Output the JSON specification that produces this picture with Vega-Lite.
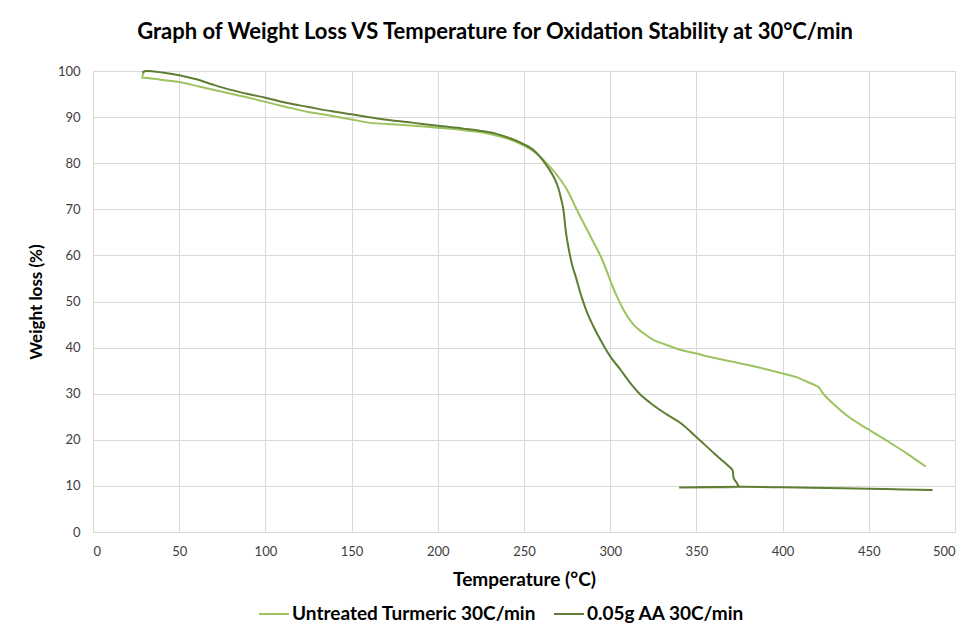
{
  "$schema": "https://vega.github.io/schema/vega-lite/v6.json",
  "autosize": {"type": "none"},
  "width": 862,
  "height": 461,
  "padding": {"left": 93, "top": 71, "right": 14, "bottom": 107},
  "background": "white",
  "title": {
    "text": "Graph of Weight Loss VS Temperature for Oxidation Stability at 30°C/min",
    "font": "Lato",
    "fontSize": 22,
    "fontWeight": "bold",
    "color": "#000000",
    "anchor": "middle",
    "offset": 21,
    "dx": -29
  },
  "config": {
    "view": {"stroke": null},
    "font": "Lato"
  },
  "data": {
    "values": [
      {"s": "Untreated Turmeric 30C/min", "i": 0, "t": 29.5, "w": 99.8},
      {"s": "Untreated Turmeric 30C/min", "i": 1, "t": 28, "w": 98.6},
      {"s": "Untreated Turmeric 30C/min", "i": 2, "t": 35, "w": 98.3},
      {"s": "Untreated Turmeric 30C/min", "i": 3, "t": 50, "w": 97.6},
      {"s": "Untreated Turmeric 30C/min", "i": 4, "t": 62, "w": 96.6},
      {"s": "Untreated Turmeric 30C/min", "i": 5, "t": 75, "w": 95.5},
      {"s": "Untreated Turmeric 30C/min", "i": 6, "t": 88, "w": 94.4},
      {"s": "Untreated Turmeric 30C/min", "i": 7, "t": 100, "w": 93.3},
      {"s": "Untreated Turmeric 30C/min", "i": 8, "t": 112, "w": 92.2},
      {"s": "Untreated Turmeric 30C/min", "i": 9, "t": 125, "w": 91.1},
      {"s": "Untreated Turmeric 30C/min", "i": 10, "t": 138, "w": 90.3},
      {"s": "Untreated Turmeric 30C/min", "i": 11, "t": 150, "w": 89.5},
      {"s": "Untreated Turmeric 30C/min", "i": 12, "t": 160, "w": 88.8},
      {"s": "Untreated Turmeric 30C/min", "i": 13, "t": 175, "w": 88.4},
      {"s": "Untreated Turmeric 30C/min", "i": 14, "t": 190, "w": 88.0},
      {"s": "Untreated Turmeric 30C/min", "i": 15, "t": 200, "w": 87.7},
      {"s": "Untreated Turmeric 30C/min", "i": 16, "t": 212, "w": 87.3},
      {"s": "Untreated Turmeric 30C/min", "i": 17, "t": 225, "w": 86.7},
      {"s": "Untreated Turmeric 30C/min", "i": 18, "t": 235, "w": 85.9},
      {"s": "Untreated Turmeric 30C/min", "i": 19, "t": 245, "w": 84.7},
      {"s": "Untreated Turmeric 30C/min", "i": 20, "t": 250, "w": 83.8},
      {"s": "Untreated Turmeric 30C/min", "i": 21, "t": 257, "w": 82.2},
      {"s": "Untreated Turmeric 30C/min", "i": 22, "t": 263.6, "w": 79.8},
      {"s": "Untreated Turmeric 30C/min", "i": 23, "t": 270, "w": 77.0},
      {"s": "Untreated Turmeric 30C/min", "i": 24, "t": 275.2, "w": 74.1},
      {"s": "Untreated Turmeric 30C/min", "i": 25, "t": 280, "w": 70.4},
      {"s": "Untreated Turmeric 30C/min", "i": 26, "t": 285, "w": 66.7},
      {"s": "Untreated Turmeric 30C/min", "i": 27, "t": 290.7, "w": 62.6},
      {"s": "Untreated Turmeric 30C/min", "i": 28, "t": 294.6, "w": 59.7},
      {"s": "Untreated Turmeric 30C/min", "i": 29, "t": 298, "w": 56.6},
      {"s": "Untreated Turmeric 30C/min", "i": 30, "t": 301, "w": 53.6},
      {"s": "Untreated Turmeric 30C/min", "i": 31, "t": 304, "w": 51.0},
      {"s": "Untreated Turmeric 30C/min", "i": 32, "t": 308, "w": 48.0},
      {"s": "Untreated Turmeric 30C/min", "i": 33, "t": 313, "w": 45.2},
      {"s": "Untreated Turmeric 30C/min", "i": 34, "t": 319.4, "w": 43.1},
      {"s": "Untreated Turmeric 30C/min", "i": 35, "t": 325, "w": 41.7},
      {"s": "Untreated Turmeric 30C/min", "i": 36, "t": 331, "w": 40.8},
      {"s": "Untreated Turmeric 30C/min", "i": 37, "t": 340, "w": 39.6},
      {"s": "Untreated Turmeric 30C/min", "i": 38, "t": 350, "w": 38.7},
      {"s": "Untreated Turmeric 30C/min", "i": 39, "t": 360, "w": 37.8},
      {"s": "Untreated Turmeric 30C/min", "i": 40, "t": 371.6, "w": 36.9},
      {"s": "Untreated Turmeric 30C/min", "i": 41, "t": 385, "w": 35.8},
      {"s": "Untreated Turmeric 30C/min", "i": 42, "t": 400, "w": 34.4},
      {"s": "Untreated Turmeric 30C/min", "i": 43, "t": 408, "w": 33.6},
      {"s": "Untreated Turmeric 30C/min", "i": 44, "t": 414.2, "w": 32.6},
      {"s": "Untreated Turmeric 30C/min", "i": 45, "t": 419, "w": 31.8},
      {"s": "Untreated Turmeric 30C/min", "i": 46, "t": 421, "w": 31.4},
      {"s": "Untreated Turmeric 30C/min", "i": 47, "t": 423, "w": 30.3},
      {"s": "Untreated Turmeric 30C/min", "i": 48, "t": 426, "w": 29.0},
      {"s": "Untreated Turmeric 30C/min", "i": 49, "t": 430, "w": 27.6},
      {"s": "Untreated Turmeric 30C/min", "i": 50, "t": 437.5, "w": 25.2},
      {"s": "Untreated Turmeric 30C/min", "i": 51, "t": 450, "w": 22.2},
      {"s": "Untreated Turmeric 30C/min", "i": 52, "t": 462.6, "w": 19.3},
      {"s": "Untreated Turmeric 30C/min", "i": 53, "t": 473, "w": 16.8},
      {"s": "Untreated Turmeric 30C/min", "i": 54, "t": 483, "w": 14.2},
      {"s": "0.05g AA 30C/min", "i": 0, "t": 28.5, "w": 99.7},
      {"s": "0.05g AA 30C/min", "i": 1, "t": 31, "w": 100.0},
      {"s": "0.05g AA 30C/min", "i": 2, "t": 40, "w": 99.7},
      {"s": "0.05g AA 30C/min", "i": 3, "t": 50, "w": 99.1},
      {"s": "0.05g AA 30C/min", "i": 4, "t": 60, "w": 98.2},
      {"s": "0.05g AA 30C/min", "i": 5, "t": 70, "w": 97.0},
      {"s": "0.05g AA 30C/min", "i": 6, "t": 80, "w": 95.9},
      {"s": "0.05g AA 30C/min", "i": 7, "t": 90, "w": 95.0},
      {"s": "0.05g AA 30C/min", "i": 8, "t": 100, "w": 94.2},
      {"s": "0.05g AA 30C/min", "i": 9, "t": 112, "w": 93.1},
      {"s": "0.05g AA 30C/min", "i": 10, "t": 125, "w": 92.2},
      {"s": "0.05g AA 30C/min", "i": 11, "t": 138, "w": 91.3},
      {"s": "0.05g AA 30C/min", "i": 12, "t": 150, "w": 90.6},
      {"s": "0.05g AA 30C/min", "i": 13, "t": 167, "w": 89.6},
      {"s": "0.05g AA 30C/min", "i": 14, "t": 185, "w": 88.8},
      {"s": "0.05g AA 30C/min", "i": 15, "t": 200, "w": 88.1},
      {"s": "0.05g AA 30C/min", "i": 16, "t": 215, "w": 87.5},
      {"s": "0.05g AA 30C/min", "i": 17, "t": 225, "w": 87.0},
      {"s": "0.05g AA 30C/min", "i": 18, "t": 234.5, "w": 86.3},
      {"s": "0.05g AA 30C/min", "i": 19, "t": 242, "w": 85.4},
      {"s": "0.05g AA 30C/min", "i": 20, "t": 250, "w": 84.1},
      {"s": "0.05g AA 30C/min", "i": 21, "t": 255, "w": 83.0},
      {"s": "0.05g AA 30C/min", "i": 22, "t": 259.7, "w": 81.2},
      {"s": "0.05g AA 30C/min", "i": 23, "t": 264, "w": 79.0},
      {"s": "0.05g AA 30C/min", "i": 24, "t": 267.4, "w": 76.9},
      {"s": "0.05g AA 30C/min", "i": 25, "t": 270, "w": 74.5},
      {"s": "0.05g AA 30C/min", "i": 26, "t": 271.3, "w": 72.6},
      {"s": "0.05g AA 30C/min", "i": 27, "t": 272.9, "w": 69.8},
      {"s": "0.05g AA 30C/min", "i": 28, "t": 274.2, "w": 65.4},
      {"s": "0.05g AA 30C/min", "i": 29, "t": 276.1, "w": 61.1},
      {"s": "0.05g AA 30C/min", "i": 30, "t": 278, "w": 57.8},
      {"s": "0.05g AA 30C/min", "i": 31, "t": 280, "w": 55.4},
      {"s": "0.05g AA 30C/min", "i": 32, "t": 283, "w": 51.5},
      {"s": "0.05g AA 30C/min", "i": 33, "t": 286, "w": 48.2},
      {"s": "0.05g AA 30C/min", "i": 34, "t": 290, "w": 44.8},
      {"s": "0.05g AA 30C/min", "i": 35, "t": 294.3, "w": 41.7},
      {"s": "0.05g AA 30C/min", "i": 36, "t": 300, "w": 38.1},
      {"s": "0.05g AA 30C/min", "i": 37, "t": 306, "w": 35.2},
      {"s": "0.05g AA 30C/min", "i": 38, "t": 311.7, "w": 32.3},
      {"s": "0.05g AA 30C/min", "i": 39, "t": 317, "w": 30.0},
      {"s": "0.05g AA 30C/min", "i": 40, "t": 323.3, "w": 28.0},
      {"s": "0.05g AA 30C/min", "i": 41, "t": 332, "w": 25.7},
      {"s": "0.05g AA 30C/min", "i": 42, "t": 340.6, "w": 23.7},
      {"s": "0.05g AA 30C/min", "i": 43, "t": 350.3, "w": 20.5},
      {"s": "0.05g AA 30C/min", "i": 44, "t": 359.9, "w": 17.2},
      {"s": "0.05g AA 30C/min", "i": 45, "t": 365, "w": 15.5},
      {"s": "0.05g AA 30C/min", "i": 46, "t": 368.6, "w": 14.3},
      {"s": "0.05g AA 30C/min", "i": 47, "t": 371.1, "w": 13.3},
      {"s": "0.05g AA 30C/min", "i": 48, "t": 371.5, "w": 11.8},
      {"s": "0.05g AA 30C/min", "i": 49, "t": 373.4, "w": 10.7},
      {"s": "0.05g AA 30C/min", "i": 50, "t": 375, "w": 9.75},
      {"s": "0.05g AA 30C/min", "i": 51, "t": 360, "w": 9.7},
      {"s": "0.05g AA 30C/min", "i": 52, "t": 340, "w": 9.65},
      {"s": "0.05g AA 30C/min", "i": 53, "t": 360, "w": 9.75},
      {"s": "0.05g AA 30C/min", "i": 54, "t": 375, "w": 9.8},
      {"s": "0.05g AA 30C/min", "i": 55, "t": 400, "w": 9.7},
      {"s": "0.05g AA 30C/min", "i": 56, "t": 425, "w": 9.55},
      {"s": "0.05g AA 30C/min", "i": 57, "t": 450, "w": 9.4},
      {"s": "0.05g AA 30C/min", "i": 58, "t": 470, "w": 9.2},
      {"s": "0.05g AA 30C/min", "i": 59, "t": 487, "w": 9.1}
    ]
  },
  "mark": {"type": "line", "strokeWidth": 2, "interpolate": "monotone"},
  "encoding": {
    "x": {
      "field": "t",
      "type": "quantitative",
      "scale": {"domain": [0, 500], "nice": false},
      "axis": {
        "title": "Temperature (°C)",
        "values": [0, 50, 100, 150, 200, 250, 300, 350, 400, 450, 500],
        "grid": true,
        "gridColor": "#D9D9D9",
        "domainColor": "#D9D9D9",
        "ticks": false,
        "labelFontSize": 13,
        "labelColor": "#404040",
        "labelPadding": 13,
        "titleFontSize": 19,
        "titleFontWeight": "bold",
        "titleColor": "#000000",
        "titlePadding": 12
      }
    },
    "y": {
      "field": "w",
      "type": "quantitative",
      "scale": {"domain": [0, 100], "nice": false},
      "axis": {
        "title": "Weight loss (%)",
        "values": [0, 10, 20, 30, 40, 50, 60, 70, 80, 90, 100],
        "grid": true,
        "gridColor": "#D9D9D9",
        "domain": false,
        "ticks": false,
        "labelFontSize": 13,
        "labelColor": "#404040",
        "labelPadding": 13,
        "titleFontSize": 17,
        "titleFontWeight": "bold",
        "titleColor": "#000000",
        "titlePadding": 12
      }
    },
    "color": {
      "field": "s",
      "type": "nominal",
      "scale": {
        "domain": ["Untreated Turmeric 30C/min", "0.05g AA 30C/min"],
        "range": ["#9DC35F", "#5F7E33"]
      },
      "legend": {
        "title": null,
        "orient": "none",
        "direction": "horizontal",
        "legendX": 165,
        "legendY": 527,
        "symbolType": "stroke",
        "symbolSize": 900,
        "symbolStrokeWidth": 2,
        "labelFontSize": 19,
        "labelFontWeight": "bold",
        "labelColor": "#000000",
        "labelOffset": 2,
        "labelLimit": 0,
        "columnPadding": 14
      }
    },
    "order": {"field": "i", "type": "quantitative"}
  }
}
